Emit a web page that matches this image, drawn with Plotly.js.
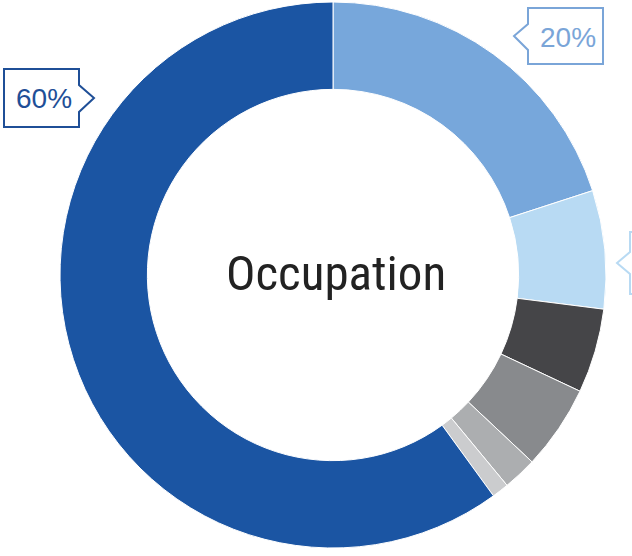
<!DOCTYPE html>
<html>
<head>
<meta charset="utf-8">
<script src="https://cdn.plot.ly/plotly-3.0.1.min.js"></script>
<style>html,body{margin:0;padding:0;background:#fff;}#chart{width:632px;height:556px;}</style>
</head>
<body>
<div id="chart"></div>
<script>
// Data
const categories = ["Group A", "Group B", "Group C", "Group D", "Group E", "Group F", "Group G"];
const shares = [20, 7, 5, 5, 2, 1, 60];
const sliceColors = ["#77a7db", "#b8daf3", "#454548", "#888a8d", "#acaeb0", "#cbccce", "#1b55a3"];
const centerLabel = "Occupation";
const calloutLabels = ["60%", "20%"];

const W = 632, H = 556;
const px = x => x / W;
const py = y => 1 - y / H;
function pathFrom(points, close) {
  return points.map((p, i) => (i ? "L" : "M") + px(p[0]).toFixed(5) + "," + py(p[1]).toFixed(5)).join(" ") + (close ? " Z" : "");
}

const trace = {
  type: "pie",
  labels: categories,
  values: shares,
  sort: false,
  direction: "clockwise",
  rotation: 0,
  hole: 0.68,
  marker: { colors: sliceColors, line: { color: "#ffffff", width: 1 } },
  textinfo: "none",
  hoverinfo: "label+percent",
  showlegend: false,
  domain: { x: [px(60), px(606)], y: [py(548), py(2)] }
};

const shapes = [
  { type: "path", xref: "paper", yref: "paper",
    path: pathFrom([[4,69],[79,69],[79,85],[94,98],[79,112],[79,127],[4,127]], true),
    line: { color: "#1f4f97", width: 2 }, fillcolor: "rgba(255,255,255,0)" },
  { type: "path", xref: "paper", yref: "paper",
    path: pathFrom([[528,8],[603,8],[603,64],[528,64],[528,50],[514,36],[528,24]], true),
    line: { color: "#7aa5d8", width: 2 }, fillcolor: "rgba(255,255,255,0)" },
  { type: "path", xref: "paper", yref: "paper",
    path: pathFrom([[640,232],[630,232],[630,252],[617,263],[630,274],[630,294],[640,294]], false),
    line: { color: "#b8daf3", width: 2 }, fillcolor: "rgba(255,255,255,0)" }
];

const layout = {
  width: W, height: H,
  margin: { l: 0, r: 0, t: 0, b: 0 },
  paper_bgcolor: "#ffffff",
  shapes: shapes,
  annotations: [
    { text: centerLabel, xref: "paper", yref: "paper", x: px(336), y: py(273),
      showarrow: false, xanchor: "center", yanchor: "middle",
      font: { family: "Liberation Sans Narrow, Arial Narrow, Roboto Condensed, sans-serif", size: 49, color: "#222222" } },
    { text: calloutLabels[0], xref: "paper", yref: "paper", x: px(44), y: py(98),
      showarrow: false, xanchor: "center", yanchor: "middle",
      font: { family: "Liberation Sans Narrow, Arial Narrow, sans-serif", size: 28, color: "#1f4f97" } },
    { text: calloutLabels[1], xref: "paper", yref: "paper", x: px(568), y: py(37),
      showarrow: false, xanchor: "center", yanchor: "middle",
      font: { family: "Liberation Sans Narrow, Arial Narrow, sans-serif", size: 28, color: "#7aa5d8" } }
  ]
};

Plotly.newPlot("chart", [trace], layout, { displayModeBar: false, staticPlot: true });
</script>
</body>
</html>
